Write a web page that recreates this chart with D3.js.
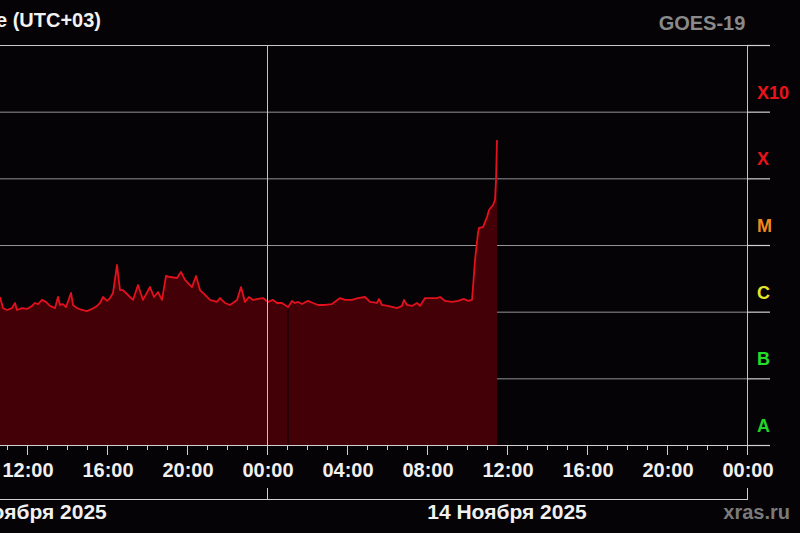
<!DOCTYPE html>
<html><head><meta charset="utf-8">
<script src="https://cdn.jsdelivr.net/npm/d3@7"></script>
<style>
body{margin:0;background:#050306;}
svg{display:block;font-family:"Liberation Sans",Arial,sans-serif;font-weight:bold;}
</style>
</head><body><svg id="c" width="800" height="533"></svg>
<script>
// ---- data (local time UTC+03) ----
const times = [
"2025-11-13T10:39","2025-11-13T10:48","2025-11-13T11:00","2025-11-13T11:15","2025-11-13T11:24","2025-11-13T11:30",
"2025-11-13T11:45","2025-11-13T12:00","2025-11-13T12:15","2025-11-13T12:24","2025-11-13T12:33","2025-11-13T12:45",
"2025-11-13T12:57","2025-11-13T13:09","2025-11-13T13:24","2025-11-13T13:33","2025-11-13T13:39","2025-11-13T13:48",
"2025-11-13T13:57","2025-11-13T14:12","2025-11-13T14:18","2025-11-13T14:30","2025-11-13T14:45","2025-11-13T15:00",
"2025-11-13T15:15","2025-11-13T15:30","2025-11-13T15:39","2025-11-13T15:48","2025-11-13T16:00","2025-11-13T16:09",
"2025-11-13T16:18","2025-11-13T16:30","2025-11-13T16:39","2025-11-13T16:48","2025-11-13T17:00","2025-11-13T17:18",
"2025-11-13T17:33","2025-11-13T17:48","2025-11-13T18:09","2025-11-13T18:21","2025-11-13T18:33","2025-11-13T18:45",
"2025-11-13T18:57","2025-11-13T19:09","2025-11-13T19:30","2025-11-13T19:42","2025-11-13T19:54","2025-11-13T20:15",
"2025-11-13T20:27","2025-11-13T20:39","2025-11-13T20:54","2025-11-13T21:09","2025-11-13T21:30","2025-11-13T21:39",
"2025-11-13T21:54","2025-11-13T22:09","2025-11-13T22:30","2025-11-13T22:42","2025-11-13T22:54","2025-11-13T23:06",
"2025-11-13T23:18","2025-11-13T23:33","2025-11-13T23:48","2025-11-14T00:03","2025-11-14T00:18","2025-11-14T00:30",
"2025-11-14T00:45","2025-11-14T00:54","2025-11-14T01:03","2025-11-14T01:15","2025-11-14T01:24","2025-11-14T01:33",
"2025-11-14T01:45","2025-11-14T02:03","2025-11-14T02:18","2025-11-14T02:33","2025-11-14T02:54","2025-11-14T03:15",
"2025-11-14T03:39","2025-11-14T03:54","2025-11-14T04:15","2025-11-14T04:33","2025-11-14T04:54","2025-11-14T05:09",
"2025-11-14T05:30","2025-11-14T05:36","2025-11-14T05:45","2025-11-14T06:03","2025-11-14T06:30","2025-11-14T06:45",
"2025-11-14T06:51","2025-11-14T07:00","2025-11-14T07:15","2025-11-14T07:30","2025-11-14T07:39","2025-11-14T07:54",
"2025-11-14T08:15","2025-11-14T08:30","2025-11-14T08:39","2025-11-14T08:54","2025-11-14T09:15","2025-11-14T09:33",
"2025-11-14T09:51","2025-11-14T10:03","2025-11-14T10:15","2025-11-14T10:18","2025-11-14T10:24","2025-11-14T10:33",
"2025-11-14T10:36","2025-11-14T10:48","2025-11-14T10:54","2025-11-14T11:00","2025-11-14T11:06","2025-11-14T11:18",
"2025-11-14T11:24","2025-11-14T11:27","2025-11-14T11:30"
];
const flux = [
1.66e-6,1.13e-6,1.06e-6,1.13e-6,1.35e-6,1.06e-6,
1.13e-6,1.10e-6,1.22e-6,1.35e-6,1.30e-6,1.50e-6,
1.40e-6,1.22e-6,1.13e-6,1.66e-6,1.26e-6,1.30e-6,
1.17e-6,1.91e-6,1.26e-6,1.13e-6,1.06e-6,1.02e-6,
1.10e-6,1.22e-6,1.35e-6,1.66e-6,1.45e-6,1.60e-6,
1.91e-6,5.01e-6,2.11e-6,2.11e-6,1.84e-6,1.50e-6,
2.51e-6,1.50e-6,2.34e-6,1.66e-6,1.97e-6,1.50e-6,
3.43e-6,3.31e-6,3.20e-6,3.94e-6,2.99e-6,2.34e-6,
3.43e-6,2.11e-6,1.78e-6,1.50e-6,1.40e-6,1.60e-6,
1.35e-6,1.26e-6,1.50e-6,2.34e-6,1.40e-6,1.66e-6,
1.50e-6,1.55e-6,1.60e-6,1.40e-6,1.50e-6,1.35e-6,
1.35e-6,1.26e-6,1.17e-6,1.45e-6,1.35e-6,1.40e-6,
1.30e-6,1.45e-6,1.35e-6,1.26e-6,1.26e-6,1.30e-6,
1.60e-6,1.50e-6,1.50e-6,1.60e-6,1.66e-6,1.40e-6,
1.35e-6,1.55e-6,1.26e-6,1.22e-6,1.13e-6,1.22e-6,
1.50e-6,1.26e-6,1.22e-6,1.35e-6,1.22e-6,1.60e-6,
1.60e-6,1.60e-6,1.66e-6,1.45e-6,1.40e-6,1.45e-6,
1.55e-6,1.45e-6,1.50e-6,2.34e-6,5.95e-6,1.51e-5,
1.80e-5,1.86e-5,2.21e-5,2.63e-5,3.35e-5,3.98e-5,
4.73e-5,9.44e-5,3.76e-4
];
const gapTimes = ["2025-11-14T01:03"];
const classLabels = ["A","B","C","M","X","X10"];
const classBounds = [1e-8,1e-7,1e-6,1e-5,1e-4,1e-3,1e-2];
const dayStarts = ["2025-11-13T00:00","2025-11-14T00:00","2025-11-15T00:00"];
const dayLabels = ["13 Ноября 2025","14 Ноября 2025"];
const titleText = "Время московское (UTC+03)";
const satText = "GOES-19";
const sourceText = "xras.ru";

// ---- drawing ----
const parse = d3.timeParse("%Y-%m-%dT%H:%M");
const data = times.map((t,i)=>({t:parse(t), v:flux[i]}));
const days = dayStarts.map(parse);
const classColor = {A:"#22d42a",B:"#22e02a",C:"#e6e628",M:"#f08a1e",X:"#e8141a",X10:"#e8141a"};

const svg = d3.select("#c");
svg.append("rect").attr("width",800).attr("height",533).attr("fill","#050306");

const x = d3.scaleTime().domain([days[0], days[2]]).range([-213, 747]);
const y = d3.scaleLog().domain([1e-8, 1e-2]).range([445, 45]);
const xL = x.range()[0], xR = x.range()[1];

// horizontal grid
svg.append("g").selectAll("line").data(classBounds).join("line")
  .attr("x1", xL).attr("x2", xR)
  .attr("y1", d=>y(d)+0.5).attr("y2", d=>y(d)+0.5)
  .attr("stroke", (d,i)=> i===classBounds.length-1 ? "#c8c8c8" : "#939393").attr("stroke-width",1);

// area + line
const area = d3.area().x(d=>x(d.t)).y0(y(1e-8)).y1(d=>y(d.v));
svg.append("path").datum(data).attr("d", area).attr("fill","#440007");
// data gap stripe
gapTimes.map(parse).forEach(g=>{
  const d = data.find(p=>+p.t===+g);
  svg.append("line").attr("x1",x(g)).attr("x2",x(g))
    .attr("y1", y(d.v)+3).attr("y2", y(1e-8))
    .attr("stroke","#220004").attr("stroke-width",2);
});
const line = d3.line().x(d=>x(d.t)).y(d=>y(d.v));
svg.append("path").datum(data).attr("d", line).attr("fill","none")
  .attr("stroke","#e3111d").attr("stroke-width",1.8).attr("stroke-linejoin","round");

// vertical day lines inside plot
svg.append("g").selectAll("line").data(days).join("line")
  .attr("x1", d=>Math.round(x(d))+0.5).attr("x2", d=>Math.round(x(d))+0.5)
  .attr("y1", y(1e-2)).attr("y2", y(1e-8)+10)
  .attr("stroke","#c4c4c4").attr("stroke-width",1);

// right axis extension ticks
svg.append("g").selectAll("line").data(classBounds).join("line")
  .attr("x1", xR).attr("x2", xR+23)
  .attr("y1", d=>y(d)+0.5).attr("y2", d=>y(d)+0.5)
  .attr("stroke","#d0d0d0").attr("stroke-width",1.2);
// bottom axis line full
svg.append("line").attr("x1",xL).attr("x2",xR+21).attr("y1",y(1e-8)+0.5).attr("y2",y(1e-8)+0.5)
  .attr("stroke","#cfcfcf").attr("stroke-width",1.2);

// class labels
svg.append("g").selectAll("text").data(classLabels).join("text")
  .attr("x", 757).attr("y", (d,i)=>y(classBounds[i])-13)
  .attr("fill", d=>classColor[d]).attr("font-size",18).text(d=>d);

// x ticks
const hours = d3.timeHour.every(1).range(days[0], d3.timeHour.offset(days[2],1));
svg.append("g").selectAll("line").data(hours).join("line")
  .attr("x1", d=>Math.round(x(d))+0.5).attr("x2", d=>Math.round(x(d))+0.5)
  .attr("y1", y(1e-8)).attr("y2", d=> d.getHours()%4===0 ? y(1e-8)+10 : y(1e-8)+5)
  .attr("stroke","#d0d0d0").attr("stroke-width",1);
const fmt = d3.timeFormat("%H:%M");
svg.append("g").selectAll("text")
  .data(hours.filter(d=>d.getHours()%4===0 && x(d) > 0))
  .join("text")
  .attr("x", d=>x(d)+1).attr("y", 477).attr("text-anchor","middle")
  .attr("fill","#f0f0f0").attr("font-size",20).text(d=>fmt(d));

// date line & separators
svg.append("line").attr("x1",xL).attr("x2",xR+1).attr("y1",499.5).attr("y2",499.5)
  .attr("stroke","#cfcfcf").attr("stroke-width",1.2);
svg.append("g").selectAll("line").data(days).join("line")
  .attr("x1", d=>Math.round(x(d))+0.5).attr("x2", d=>Math.round(x(d))+0.5)
  .attr("y1", 488).attr("y2", 500)
  .attr("stroke","#cfcfcf").attr("stroke-width",1);
svg.append("g").selectAll("text").data(dayLabels).join("text")
  .attr("x",(d,i)=>(x(days[i])+x(days[i+1]))/2).attr("y",519).attr("text-anchor","middle")
  .attr("fill","#f0f0f0").attr("font-size",21).text(d=>d);

// titles
svg.append("text").attr("x",101).attr("y",27).attr("text-anchor","end")
  .attr("fill","#f2f2f2").attr("font-size",20).text(titleText);
svg.append("text").attr("x",702).attr("y",30).attr("text-anchor","middle")
  .attr("fill","#8a8a8a").attr("font-size",20).text(satText);
svg.append("text").attr("x",790).attr("y",519).attr("text-anchor","end")
  .attr("fill","#7a7a7a").attr("font-size",20).text(sourceText);
</script>
</body></html>
